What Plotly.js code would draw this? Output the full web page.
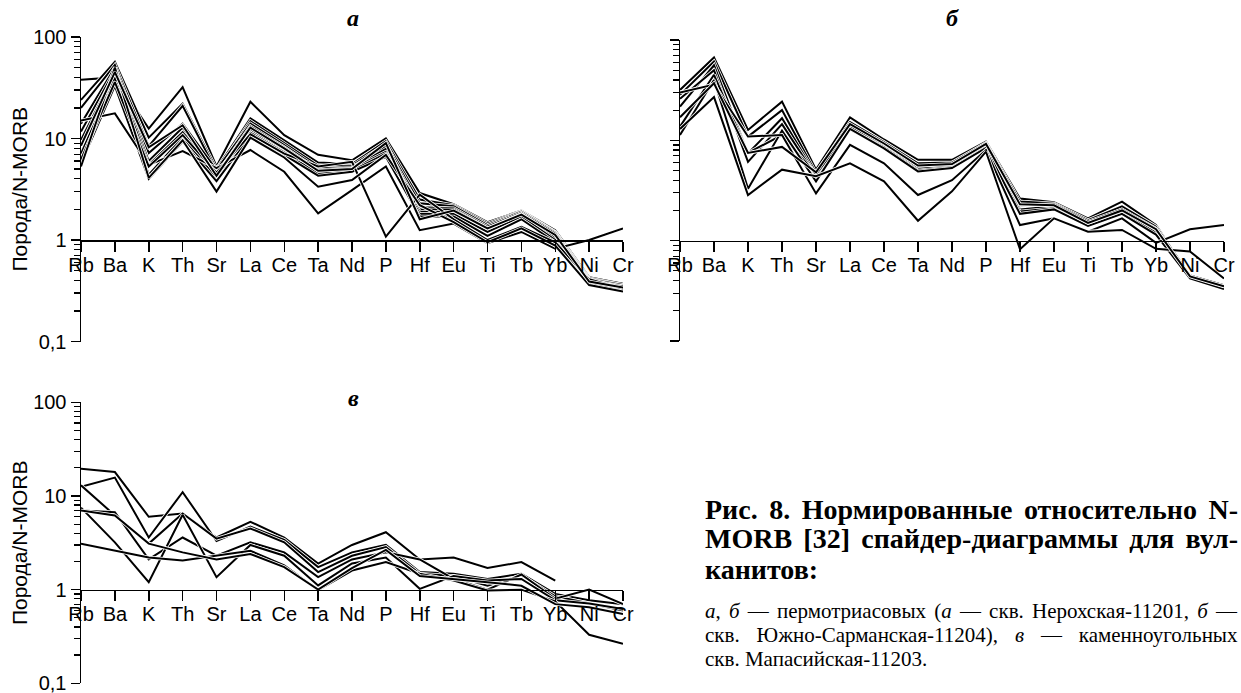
<!DOCTYPE html>
<html><head><meta charset="utf-8">
<script src="https://cdn.plot.ly/plotly-3.0.1.min.js"></script>
<style>html,body{margin:0;padding:0;background:#fff;overflow:hidden}#chart{width:1241px;height:693px}</style>
</head><body><div id="chart"></div>
<script>
// ---------- DATA ----------
const elements = ['Rb','Ba','K','Th','Sr','La','Ce','Ta','Nd','P','Hf','Eu','Ti','Tb','Yb','Ni','Cr'];
const yTickVals = [0.1, 1, 10, 100];
const yTickText = ['0,1', '1', '10', '100'];
const yTitle = 'Порода/N-MORB';
const panelLetters = ['а', 'б', 'в'];

// panel а — скв. Нерохская-11201
const seriesA1 = [38, 40, 12.5, 32, 5.3, 23, 10.8, 6.9, 6.1, 10, 2.9, 2.25, 1.5, 1.95, 1.25, 0.43, 0.37];
const seriesA2 = [24, 57, 10.2, 22, 5.0, 15.8, 9.6, 5.8, 5.6, 9.4, 2.5, 2.2, 1.45, 1.92, 1.2, 0.42, 0.36];
const seriesA3 = [20, 53, 8.4, 21, 4.7, 14.8, 9.0, 5.4, 5.4, 8.8, 2.3, 2.15, 1.4, 1.9, 1.18, 0.41, 0.36];
const seriesA4 = [14, 50, 7.2, 14, 4.9, 14, 8.6, 5.1, 5.2, 8.3, 2.1, 2.05, 1.35, 1.85, 1.15, 0.4, 0.35];
const seriesA5 = [11.7, 47, 6, 12.8, 4.4, 13.2, 8.2, 4.9, 5.1, 7.9, 2.0, 2.0, 1.3, 1.8, 1.1, 0.39, 0.34];
const seriesA6 = [9.7, 44, 5.5, 11.5, 4.5, 12.3, 7.8, 4.7, 5.0, 7.4, 1.9, 1.9, 1.25, 1.75, 1.05, 0.38, 0.35];
const seriesA7 = [7.1, 40, 4.4, 10.2, 4.1, 11.4, 7.3, 4.5, 4.8, 7.1, 1.8, 1.8, 1.2, 1.7, 1.0, 0.37, 0.33];
const seriesA8 = [5.7, 33, 4.0, 9.3, 3.8, 10.6, 6.9, 4.3, 4.7, 6.6, 1.7, 1.7, 1.1, 1.6, 0.95, 0.37, 0.32];
const seriesA9 = [15, 17.7, 5.5, 7.5, 5.1, 7.7, 4.7, 1.83, 3.1, 5.3, 1.25, 1.45, 0.93, 1.2, 0.82, 1.0, 1.3];
const seriesA10 = [6.2, 36, 5.3, 10.8, 4.6, 11, 7.1, 5.3, 5.9, 1.08, 2.8, 1.6, 1.0, 1.35, 0.95, 0.41, 0.33];
const seriesA11 = [5.3, 50, 4.1, 9.6, 3.0, 10.2, 6.5, 3.35, 3.9, 6.9, 2.2, 1.5, 0.95, 1.3, 0.88, 0.36, 0.31];
const seriesA12 = [8.5, 45, 8.2, 13.5, 4.3, 12.8, 8.0, 4.8, 5.0, 9.0, 1.6, 1.95, 1.3, 1.78, 1.12, 0.39, 0.34];

// panel б — скв. Южно-Сарманская-11204
const seriesB1 = [31.8, 67, 12.7, 24.3, 5.1, 16.9, 10.2, 6.4, 6.4, 9.7, 2.63, 2.41, 1.67, 2.45, 1.43, 0.44, 0.34];
const seriesB2 = [28.4, 61, 10.9, 20, 4.7, 15.2, 9.6, 5.9, 6.0, 9.4, 2.45, 2.35, 1.6, 2.2, 1.38, 0.45, 0.36];
const seriesB3 = [21.7, 56, 7.4, 16.6, 4.5, 14.3, 9.1, 5.5, 5.7, 9.1, 2.25, 2.3, 1.55, 2.05, 1.32, 0.43, 0.35];
const seriesB4 = [26, 50, 6.1, 14.5, 4.4, 13.6, 8.8, 5.2, 5.5, 8.9, 2.05, 2.2, 1.5, 1.95, 1.27, 0.44, 0.34];
const seriesB5 = [13.7, 45, 7.5, 11.3, 4.6, 12.8, 8.5, 5.0, 5.4, 8.6, 1.95, 2.1, 1.45, 1.9, 1.2, 0.42, 0.35];
const seriesB6 = [11.3, 40, 3.3, 12.5, 3.9, 13, 8.3, 4.9, 5.3, 8.4, 1.85, 2.05, 1.4, 1.85, 1.15, 0.42, 0.33];
const seriesB7 = [30, 36, 10.9, 11.3, 2.96, 9.0, 5.9, 2.85, 4.0, 8.0, 1.43, 1.67, 1.23, 1.67, 0.95, 1.3, 1.43];
const seriesB8 = [13, 27, 2.85, 5.1, 4.4, 5.9, 3.9, 1.58, 3.1, 7.7, 0.82, 1.67, 1.23, 1.28, 0.83, 0.78, 0.42];
const seriesB9 = [17, 37, 7.5, 8.6, 4.8, 14.5, 9.3, 5.6, 5.8, 9.2, 2.3, 2.25, 1.5, 2.0, 1.3, 0.44, 0.35];

// panel в — скв. Мапасийская-11203
const seriesC1 = [19.5, 18, 6.0, 6.5, 3.6, 5.3, 3.6, 1.9, 3.0, 4.1, 2.1, 2.2, 1.7, 1.97, 1.25, null, null];
const seriesC2 = [12.5, 15.7, 3.6, 11, 3.3, 4.7, 3.4, 1.74, 2.5, 3.0, 1.54, 1.48, 1.3, 1.48, 0.9, 0.77, 0.7];
const seriesC3 = [13, 6.2, 3.1, 6.5, 3.5, 4.5, 3.2, 1.54, 2.3, 2.85, 1.48, 1.4, 1.1, 1.42, 0.85, 0.71, 0.6];
const seriesC4 = [7.0, 6.7, 2.1, 3.6, 2.3, 3.2, 2.5, 1.36, 2.1, 2.5, 2.1, 1.3, 1.0, 1.45, 0.8, 1.0, 0.7];
const seriesC5 = [7.5, 3.2, 1.2, 6.3, 1.36, 3.0, 2.3, 1.11, 1.9, 2.2, 1.02, 1.4, 1.25, 1.3, 0.77, 0.71, 0.62];
const seriesC6 = [3.1, 2.6, 2.2, 2.05, 2.3, 2.6, 1.82, 0.99, 1.6, 1.97, 1.48, 1.25, 0.98, 1.0, 0.75, 0.33, 0.265];
const seriesC7 = [7.0, 6.2, 3.1, 2.5, 2.1, 2.4, 1.74, 1.0, 1.7, 2.65, 1.4, 1.3, 1.2, 1.1, 0.7, 0.65, 0.55];

const panelA = [seriesA1, seriesA2, seriesA3, seriesA4, seriesA5, seriesA6, seriesA7, seriesA8, seriesA9, seriesA10, seriesA11, seriesA12];
const panelB = [seriesB1, seriesB2, seriesB3, seriesB4, seriesB5, seriesB6, seriesB7, seriesB8, seriesB9];
const panelC = [seriesC1, seriesC2, seriesC3, seriesC4, seriesC5, seriesC6, seriesC7];

// ---------- LAYOUT ----------
const W = 1241, H = 693;
const fx = px => px / W;
const fy = py => 1 - py / H;
const SANS = 'Liberation Sans, Arial, sans-serif';
const SERIF = 'Liberation Serif, Times New Roman, serif';

const panels = [
  {series: panelA, x: 'x', y: 'y', xl: 81, xr: 623, yTop: 37, yBot: 341.5, labels: true},
  {series: panelB, x: 'x2', y: 'y2', xl: 680, xr: 1224, yTop: 40, yBot: 341, labels: false},
  {series: panelC, x: 'x3', y: 'y3', xl: 81, xr: 623, yTop: 402.3, yBot: 683.3, labels: true}
];

const minorVals = [];
[0.1, 1, 10].forEach(d => { for (let k = 2; k <= 9; k++) minorVals.push(+(d * k).toPrecision(3)); });

const traces = [];
const layout = {
  width: W, height: H,
  margin: {l: 0, r: 0, t: 0, b: 0},
  paper_bgcolor: 'white', plot_bgcolor: 'rgba(0,0,0,0)',
  showlegend: false,
  font: {family: SANS, color: 'black'},
  annotations: []
};

panels.forEach((p, i) => {
  p.series.forEach(s => {
    traces.push({x: elements, y: s, xaxis: p.x, yaxis: p.y, type: 'scatter', mode: 'lines',
      line: {color: 'white', width: 3.6}, hoverinfo: 'skip', connectgaps: false});
    traces.push({x: elements, y: s, xaxis: p.x, yaxis: p.y, type: 'scatter', mode: 'lines',
      line: {color: 'black', width: 2}, connectgaps: false});
  });
  const yd = [fy(p.yBot), fy(p.yTop)];
  const pos = yd[0] + (1 / 3) * (yd[1] - yd[0]);   // value 1 on the log axis [-1, 2]
  const xName = i === 0 ? 'xaxis' : 'xaxis' + (i + 1);
  const yName = i === 0 ? 'yaxis' : 'yaxis' + (i + 1);
  layout[xName] = {
    type: 'category', categoryorder: 'array', categoryarray: elements,
    range: [0, elements.length - 1],
    domain: [fx(p.xl), fx(p.xr)], anchor: 'free', position: pos,
    showline: true, linecolor: 'black', linewidth: 1.5,
    ticks: 'outside', ticklen: 10, tickwidth: 1.5, tickcolor: 'black',
    tickmode: 'array', tickvals: elements, ticktext: elements, tickangle: 0,
    tickfont: {family: SANS, size: 20, color: 'black'},
    ticklabelstandoff: -4,
    ticklabeloverflow: 'allow',
    showgrid: false, zeroline: false, fixedrange: true
  };
  layout[yName] = {
    type: 'log', range: [-1, 2],
    domain: yd, anchor: p.x,
    showline: true, linecolor: 'black', linewidth: 1.5,
    ticks: 'outside', ticklen: 9, tickwidth: 1.5, tickcolor: 'black',
    tickmode: 'array', tickvals: yTickVals, ticktext: yTickText,
    showticklabels: p.labels,
    ticklabeloverflow: 'allow',
    tickfont: {family: SANS, size: 20, color: 'black'},
    minor: {tickmode: 'array', tickvals: minorVals, ticks: 'outside', ticklen: 6, tickwidth: 1.2, tickcolor: 'black', showgrid: false},
    showgrid: false, zeroline: false, fixedrange: true,
    title: p.labels ? {text: yTitle, font: {family: SANS, size: 21, color: 'black'}, standoff: 0} : {text: ''}
  };
});

// panel letters
[[353, 18], [952, 18], [353, 398]].forEach((c, i) => {
  layout.annotations.push({text: panelLetters[i], xref: 'paper', yref: 'paper', x: fx(c[0]), y: fy(c[1]),
    xanchor: 'center', yanchor: 'middle', showarrow: false,
    font: {family: SERIF, size: 24, style: 'italic', weight: 'bold', color: 'black'}});
});

// caption
const captionBold = [
  'Рис. 8. Нормированные относительно N-',
  'MORB [32] спайдер-диаграммы для вул-',
  'канитов:'
];
const captionSmall = [
  '<i>а</i>, <i>б</i> — пермотриасовых (<i>а</i> — скв. Нерохская-11201, <i>б</i> —',
  'скв. Южно-Сарманская-11204), <i>в</i> — каменноугольных',
  'скв. Мапасийская-11203.'
];
const CAP_LEFT = 705, CAP_RIGHT = 1238;
const captionLines = {};
[509, 538, 569].forEach((yc, i) => {
  captionLines[layout.annotations.length] = i < 2;
  layout.annotations.push({text: captionBold[i], xref: 'paper', yref: 'paper',
    x: fx(CAP_LEFT), y: fy(yc), xanchor: 'left', yanchor: 'middle', showarrow: false,
    font: {family: SERIF, size: 28, weight: 'bold', color: 'black'}});
});
[611, 635, 659].forEach((yc, i) => {
  captionLines[layout.annotations.length] = i < 2;
  layout.annotations.push({text: captionSmall[i], xref: 'paper', yref: 'paper',
    x: fx(CAP_LEFT), y: fy(yc), xanchor: 'left', yanchor: 'middle', showarrow: false,
    font: {family: SERIF, size: 21, color: 'black'}});
});

Plotly.newPlot('chart', traces, layout, {displayModeBar: false, staticPlot: true}).then(gd => {
  // justify the caption lines like the printed text block, align all to the left edge
  gd.querySelectorAll('.annotation').forEach(g => {
    const idx = +g.getAttribute('data-index');
    if (!(idx in captionLines)) return;
    const t = g.querySelector('text.annotation-text');
    if (!t) return;
    if (captionLines[idx]) {
      const spaces = (t.textContent.match(/ /g) || []).length;
      const r = t.getBoundingClientRect();
      if (spaces) t.style.wordSpacing = ((CAP_RIGHT - CAP_LEFT - r.width) / spaces) + 'px';
    }
    const r2 = t.getBoundingClientRect();
    const dx = CAP_LEFT - r2.left;
    const old = t.getAttribute('transform') || '';
    t.setAttribute('transform', (old + ' translate(' + dx + ',0)').trim());
  });
});
</script>
</body></html>
